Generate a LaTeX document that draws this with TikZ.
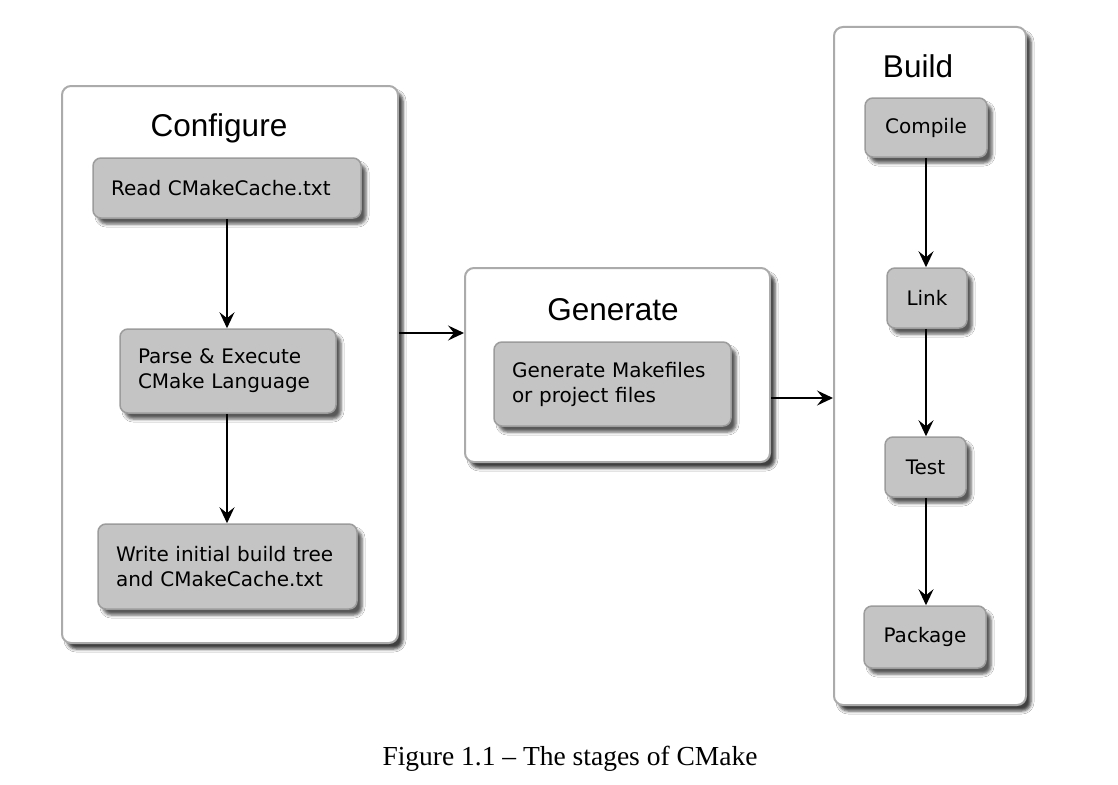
\documentclass[tikz,border=0pt]{standalone}
\usepackage{fontspec}
\setmainfont{Liberation Serif}
\newfontfamily\titlefont{Liberation Sans}
\newfontfamily\boxfont{DejaVu Sans}
\usetikzlibrary{arrows.meta,shadows.blur}
\definecolor{boxgray}{HTML}{C4C4C4}
\definecolor{boxedge}{HTML}{9C9C9C}
\definecolor{outeredge}{HTML}{ABABAB}
\tikzset{
  outerbox/.style={draw=outeredge, line width=2, fill=white, rounded corners=9,
    blur shadow={shadow xshift=5, shadow yshift=-6, shadow blur radius=3, shadow opacity=75}},
  stepbox/.style={draw=boxedge, line width=1.5, fill=boxgray, rounded corners=8,
    blur shadow={shadow xshift=5, shadow yshift=-6, shadow blur radius=3, shadow opacity=65},
    font=\boxfont\fontsize{20}{25}\selectfont, inner xsep=18, inner ysep=0},
  multibox/.style={stepbox, align=left},
  wordbox/.style={stepbox, align=center},
  title/.style={font=\titlefont\fontsize{31.5}{36}\selectfont, inner sep=0},
  arr/.style={line width=2, -{Stealth[length=16, width=15, inset=6]}},
}
\begin{document}
\begin{tikzpicture}[x=1pt, y=-1pt]
\useasboundingbox[fill=white] (0,0) rectangle (1118,784);
% outer stages
\node[outerbox, minimum width=336, minimum height=557] (conf) at (230,364.5) {};
\node[outerbox, minimum width=305, minimum height=194] (gen) at (617.5,365) {};
\node[outerbox, minimum width=192, minimum height=678] (build) at (930,366) {};
% titles
\node[title] (tconf) at (219,128) {Configure};
\node[title] (tgen) at (613,310) {Generate};
\node[title] (tbuild) at (918,66) {Build};
% configure steps
\node[multibox, text width=232, minimum height=60] (read) at (227,188) {Read CMakeCache.txt};
\node[multibox, text width=180, minimum height=84] (parse) at (228,371) {Parse \& Execute\\CMake Language};
\node[multibox, text width=223, minimum height=85] (write) at (227.5,566.5) {Write initial build tree\\and CMakeCache.txt};
% generate step
\node[multibox, text width=201, minimum height=84] (genmake) at (612.5,384) {Generate Makefiles\\or project files};
% build steps
\node[wordbox, minimum width=122, minimum height=59] (comp) at (926,127.5) {Compile};
\node[wordbox, minimum width=80, minimum height=60] (link) at (927,298) {Link};
\node[wordbox, minimum width=81, minimum height=60] (test) at (925.5,467) {Test};
\node[wordbox, minimum width=122, minimum height=62] (pack) at (925,637) {Package};
% arrows
\draw[arr] (read.south) -- (read.south |- parse.north);
\draw[arr] (parse.south -| read.south) -- (read.south |- write.north);
\draw[arr] (conf.east |- 0,333) -- (gen.west |- 0,333);
\draw[arr] (gen.east |- 0,398) -- (build.west |- 0,398);
\draw[arr] (comp.south) -- (comp.south |- link.north);
\draw[arr] (link.south -| comp.south) -- (comp.south |- test.north);
\draw[arr] (test.south -| comp.south) -- (comp.south |- pack.north);
% caption
\node[font=\fontsize{27.5}{30}\selectfont, anchor=base] (cap) at (570,765) {Figure 1.1 – The stages of CMake};
\end{tikzpicture}
\end{document}
